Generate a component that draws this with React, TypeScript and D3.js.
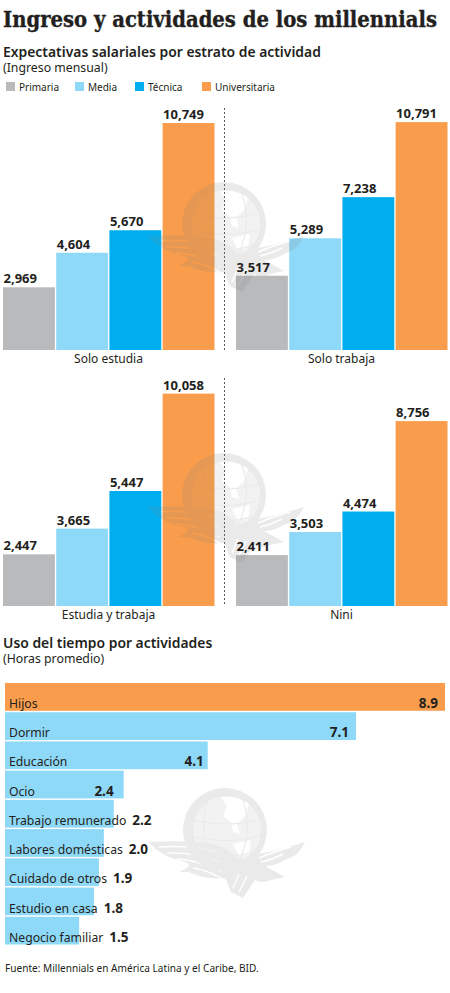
import React, { useEffect, useRef } from "react";
import * as d3 from "d3";

const levels = ["Primaria", "Media", "Técnica", "Universitaria"];
const levelColors = ["#b9babc", "#8ed8f8", "#00aeef", "#f99d4c"];
const panelNames = ["Solo estudia", "Solo trabaja", "Estudia y trabaja", "Nini"];
const soloEstudia = [2969, 4604, 5670, 10749];
const soloTrabaja = [3517, 5289, 7238, 10791];
const estudiaTrabaja = [2447, 3665, 5447, 10058];
const nini = [2411, 3503, 4474, 8756];
const panelValues = [soloEstudia, soloTrabaja, estudiaTrabaja, nini];

const activities = [
  "Hijos",
  "Dormir",
  "Educación",
  "Ocio",
  "Trabajo remunerado",
  "Labores domésticas",
  "Cuidado de otros",
  "Estudio en casa",
  "Negocio familiar",
];
const hours = [8.9, 7.1, 4.1, 2.4, 2.2, 2.0, 1.9, 1.8, 1.5];

const sans = "'Noto Sans', sans-serif";
const ink = "#231f20";

// faint eagle and globe logo, cx/cy is the middle of the globe
const drawLogo = (
  g: d3.Selection<SVGGElement, unknown, null, undefined>,
  cx: number,
  cy: number
) => {
  const gray = "#808080";
  const logo = g.append("g").attr("transform", `translate(${cx},${cy})`).attr("opacity", 0.16);

  // white feather lines are cut out of the eagle
  const wingMask = `logo-wing-${Math.round(cy)}`;
  const m = logo.append("mask").attr("id", wingMask);
  m.append("rect").attr("x", -100).attr("y", -60).attr("width", 200).attr("height", 140).attr("fill", "#fff");
  m.append("path")
    .attr("fill", "none")
    .attr("stroke", "#000")
    .attr("stroke-width", 1.4)
    .attr("d", "M-66,17 Q-30,15 -10,22 M-58,23 Q-30,22 -6,32 M-48,29 Q-26,30 -4,42 M-32,38 Q-16,40 2,52 M66,17 Q48,22 34,28 M58,24 Q46,30 36,32 M8,58 L14,44 M14,62 L22,46");

  // land is left white on the globe
  const globeMask = `logo-globe-${Math.round(cy)}`;
  const gm = logo.append("mask").attr("id", globeMask);
  gm.append("rect").attr("x", -50).attr("y", -50).attr("width", 100).attr("height", 100).attr("fill", "#fff");
  gm.append("circle").attr("cx", 2).attr("cy", 0).attr("r", 34).attr("fill", "#999");
  gm.append("path").attr("fill", "#000").attr("d", "M-4,-33 Q12,-35 24,-26 L20,-14 L12,-6 L15,4 L8,2 L6,-8 L-2,-14 L2,-24 Z M8,14 L26,10 L24,24 L14,26 Z");

  logo.append("circle").attr("r", 42).attr("fill", gray).attr("mask", `url(#${globeMask})`);
  logo
    .append("path")
    .attr("fill", "none")
    .attr("stroke", gray)
    .attr("stroke-width", 1.2)
    .attr("d", "M-38,-12 Q0,0 38,-12 M-40,4 Q0,17 40,4 M-34,20 Q0,32 34,20 M-14,-38 Q-30,-5 -12,36 M14,-38 Q32,-5 12,36");
  logo
    .append("path")
    .attr("fill", gray)
    .attr("mask", `url(#${wingMask})`)
    .attr("d", "M-77,12 Q-40,10 -12,14 Q4,18 14,30 Q30,24 44,22 Q62,18 80,12 Q74,26 60,30 Q50,36 40,36 L60,47 L46,50 Q36,54 30,50 L18,68 L6,62 L0,48 Q-20,50 -36,42 L-46,42 Q-30,36 -40,32 Q-62,28 -77,12 Z");
};

const App: React.FC = () => {
  const svgRef = useRef<SVGSVGElement>(null);

  useEffect(() => {
    if (!svgRef.current) return;
    const width = 450;
    const height = 993;

    const svg = d3.select(svgRef.current);
    svg.selectAll("*").remove();
    svg
      .attr("width", width)
      .attr("height", height)
      .attr("viewBox", `0 0 ${width} ${height}`)
      .style("display", "block")
      .style("position", "absolute")
      .style("left", 0)
      .style("top", 0)
      .style("font-family", sans);

    const root = svg.append("g") as d3.Selection<SVGGElement, unknown, null, undefined>;

    const label = (x: number, y: number, text: string, size: number, weight = 400, anchor = "start") =>
      root
        .append("text")
        .attr("x", x)
        .attr("y", y)
        .attr("font-size", size)
        .attr("font-weight", weight)
        .attr("text-anchor", anchor)
        .attr("fill", ink)
        .text(text);

    label(3, 27, "Ingreso y actividades de los millennials", 22, 700)
      .attr("font-family", "'DejaVu Serif Condensed', 'DejaVu Serif', serif")
      .attr("textLength", 434)
      .attr("lengthAdjust", "spacingAndGlyphs")
      .attr("stroke", ink)
      .attr("stroke-width", 0.35);
    label(3, 57, "Expectativas salariales por estrato de actividad", 13.9, 600);
    label(3, 72, "(Ingreso mensual)", 12.3);

    // legend
    const legendX = [6, 75, 135, 202];
    levels.forEach((name, i) => {
      root.append("rect").attr("x", legendX[i]).attr("y", 82).attr("width", 9).attr("height", 9).attr("fill", levelColors[i]);
      label(legendX[i] + 13, 90.5, name, 10);
    });

    // dashed dividers
    [[108, 350], [378, 606]].forEach(([y1, y2]) => {
      root.append("line").attr("x1", 224.5).attr("x2", 224.5).attr("y1", y1).attr("y2", y2).attr("stroke", "#58595b").attr("stroke-dasharray", "2 2");
    });

    // income panels
    const panelX = [3, 236, 3, 236];
    const panelBase = [350, 350, 606, 606];
    const panelNameY = [363, 363, 619, 619];
    const yScale = d3.scaleLinear().domain([0, 10749]).range([0, 227]);
    const valueLayer: (() => void)[] = [];

    panelValues.forEach((values, p) => {
      const x = d3.scaleBand<number>().domain(d3.range(4)).range([panelX[p], panelX[p] + 211.5]).paddingInner(0.025);
      const g = root.append("g");
      g.selectAll("rect")
        .data(values)
        .join("rect")
        .attr("x", (_, i) => x(i) as number)
        .attr("y", (d) => panelBase[p] - yScale(d))
        .attr("width", x.bandwidth())
        .attr("height", (d) => yScale(d))
        .attr("fill", (_, i) => levelColors[i]);
      valueLayer.push(() => {
        root
          .append("g")
          .selectAll("text")
          .data(values)
          .join("text")
          .attr("x", (_, i) => (x(i) as number) + 0.5)
          .attr("y", (d) => panelBase[p] - yScale(d) - 4)
          .attr("font-size", 13)
          .attr("font-weight", 700)
          .attr("fill", ink)
          .text((d) => d3.format(",")(d));
      });
      label(panelX[p] + 105.5, panelNameY[p], panelNames[p], 12, 400, "middle");
    });

    // time use
    label(3, 648, "Uso del tiempo por actividades", 13.9, 600);
    label(3, 663, "(Horas promedio)", 12.3);

    const xHours = d3.scaleLinear().domain([0, 8.9]).range([5, 445]);
    const yHours = d3.scaleBand<string>().domain(activities).range([683, 944.5]).paddingInner(0.05);
    root
      .append("g")
      .selectAll("rect")
      .data(activities)
      .join("rect")
      .attr("x", xHours(0))
      .attr("y", (d) => yHours(d) as number)
      .attr("width", (_, i) => xHours(hours[i]) - xHours(0))
      .attr("height", yHours.bandwidth())
      .attr("fill", (_, i) => (i === 0 ? levelColors[3] : levelColors[1]));

    // logo sits over the bars and under the texts
    drawLogo(root, 224, 224);
    drawLogo(root, 224, 495);
    drawLogo(root, 225, 830);
    valueLayer.forEach((draw) => draw());

    const insideGap = [7, 7, 4, 10];
    activities.forEach((name, i) => {
      const y = (yHours(name) as number) + 25;
      const nameText = label(9, y, name, 12.2);
      const value = label(0, y, hours[i].toFixed(1), 13.5, 700);
      if (i < insideGap.length) {
        value.attr("x", xHours(hours[i]) - insideGap[i]).attr("text-anchor", "end");
      } else {
        const nameEnd = 9 + (nameText.node() as SVGTextElement).getComputedTextLength();
        value.attr("x", nameEnd + 6);
      }
    });

    label(5, 972, "Fuente: Millennials en América Latina y el Caribe, BID.", 10.1);
  }, []);

  return <svg ref={svgRef} />;
};

export default App;
